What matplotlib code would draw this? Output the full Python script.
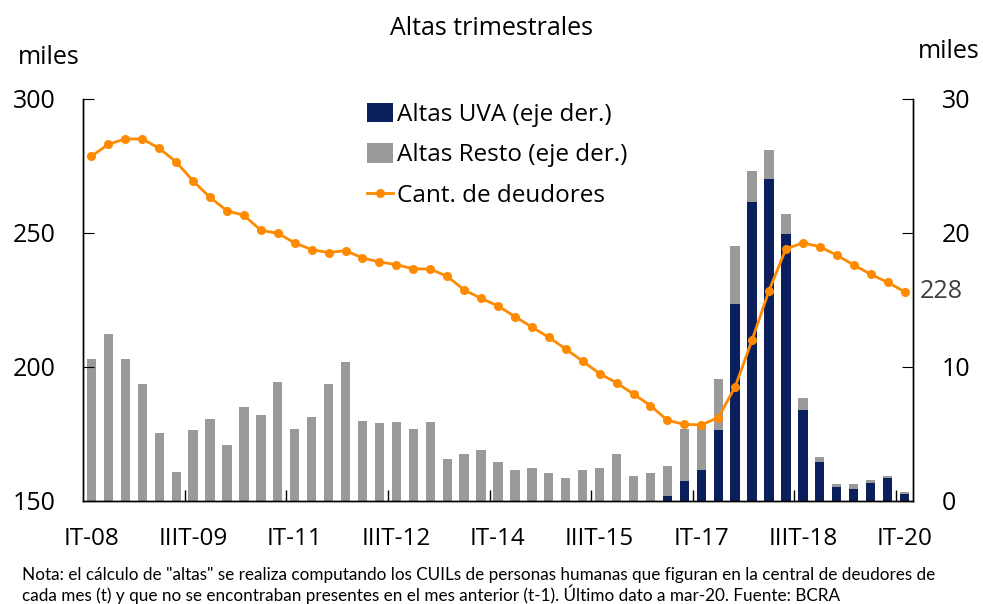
import numpy as np
import matplotlib
matplotlib.use("Agg")
import matplotlib.pyplot as plt

# quarters IT-08 .. IT-20
roman = ["I", "II", "III", "IV"]
quarters = [f"{roman[q]}T-{y:02d}" for y in range(8, 21) for q in range(4)][:49]

# total altas (miles), right axis
altas_total = [10.6, 12.5, 10.6, 8.7, 5.1, 2.2, 5.3, 6.1, 4.2, 7.0,
               6.4, 8.9, 5.4, 6.3, 8.7, 10.4, 6.0, 5.8, 5.9, 5.4,
               5.9, 3.1, 3.5, 3.8, 2.9, 2.3, 2.5, 2.1, 1.7, 2.3,
               2.5, 3.5, 1.9, 2.1, 2.6, 5.4, 5.7, 9.1, 19.0, 24.6,
               26.2, 21.4, 7.7, 3.3, 1.3, 1.3, 1.6, 1.9, 0.7]
altas_uva = [0] * 34 + [0.37, 1.5, 2.3, 5.3, 14.7, 22.3, 24.0, 19.9,
                         6.8, 2.9, 1.07, 0.87, 1.37, 1.74, 0.5]
altas_resto = [t - u for t, u in zip(altas_total, altas_uva)]

# cantidad de deudores (miles), left axis
deudores = [278.7, 283.1, 285.1, 285.1, 281.6, 276.5, 269.4, 263.3, 258.3, 256.6,
            251.0, 249.9, 246.3, 243.8, 242.7, 243.4, 240.7, 239.2, 238.2, 236.6,
            236.6, 233.8, 228.8, 225.6, 222.8, 218.8, 214.9, 211.1, 206.7, 202.2,
            197.5, 194.1, 189.9, 185.6, 180.1, 178.6, 178.4, 181.1, 192.6, 210.1,
            228.5, 244.1, 246.3, 244.9, 241.7, 238.1, 234.6, 231.6, 228.1]

navy = "#0b1f5c"
gray = "#9a9a9a"
orange = "#ff8a00"

plt.rcParams["font.family"] = ["Open Sans", "DejaVu Sans"]

fig = plt.figure(figsize=(9.83, 6.04), dpi=100)
ax = fig.add_axes([83 / 983, 103 / 604, 830 / 983, 402 / 604])
ax2 = ax.twinx()
ax.set_zorder(2)
ax2.set_zorder(1)
ax.patch.set_visible(False)

x = np.arange(len(quarters))
b1 = ax2.bar(x, altas_uva, width=0.55, color=navy, label="Altas UVA (eje der.)")
b2 = ax2.bar(x, altas_resto, width=0.55, bottom=altas_uva, color=gray,
             label="Altas Resto (eje der.)")
l1, = ax.plot(x, deudores, color=orange, lw=2, marker="o", markersize=5.5,
              label="Cant. de deudores")

ax.set_xlim(-0.5, len(quarters) - 0.5)
ax.set_ylim(150, 300)
ax.set_yticks([150, 200, 250, 300])
ax2.set_ylim(0, 30)
ax2.set_yticks([0, 10, 20, 30])

# tick marks at category boundaries, labels at centres
ax.set_xticks(np.arange(5.5, 48, 6))
ax.set_xticklabels([])
ax.set_xticks(np.arange(0, 49, 6), minor=True)
ax.set_xticklabels([quarters[i] for i in range(0, 49, 6)], minor=True)
ax.tick_params(axis="x", which="major", direction="in", length=8, width=1)
ax.tick_params(axis="x", which="minor", length=0, pad=19, labelsize=17.5)
ax.tick_params(axis="y", direction="in", length=8, pad=20, labelsize=18)
ax2.tick_params(axis="y", direction="in", length=8, pad=21, labelsize=18)

for a in (ax, ax2):
    a.spines["top"].set_visible(False)
    for s in ("left", "right", "bottom"):
        a.spines[s].set_color("black")
        a.spines[s].set_linewidth(1)

ax.annotate("228", (x[-1], deudores[-1]), xytext=(11, 0), textcoords="offset points",
            va="center", ha="left", fontsize=18, color="#404040")

ax.legend([b1, b2, l1], [b1.get_label(), b2.get_label(), l1.get_label()],
          loc="upper left", bbox_to_anchor=(0.33, 1.015), frameon=False, fontsize=17.5,
          handlelength=1.1, handleheight=0.85, handletextpad=0.15, labelspacing=0.68,
          borderaxespad=0)

fig.text(0.5, 0.953, "Altas trimestrales", ha="center", va="center", fontsize=18)
fig.text(18 / 983, 1 - 57 / 604, "miles", ha="left", va="center", fontsize=18)
fig.text(980 / 983, 1 - 52 / 604, "miles", ha="right", va="center", fontsize=18)

nota = ('Nota: el cálculo de "altas" se realiza computando los CUILs de personas humanas que figuran en la central de deudores de\n'
        'cada mes (t) y que no se encontraban presentes en el mes anterior (t-1). Último dato a mar-20. Fuente: BCRA')
fig.text(22 / 983, 1 - 567 / 604, nota, ha="left", va="top", fontsize=12.3,
         family=["Lato", "DejaVu Sans"], linespacing=1.1)

fig.savefig("out.png", dpi=100)
